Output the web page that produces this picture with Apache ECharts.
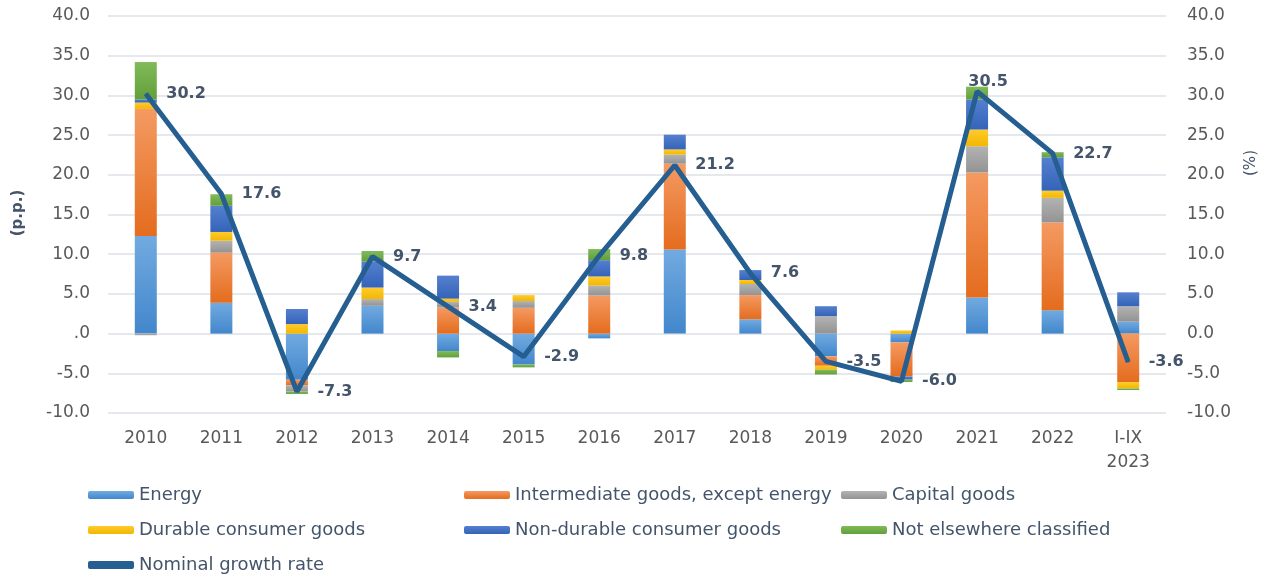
<!DOCTYPE html>
<html>
<head>
<meta charset="utf-8">
<script src="https://cdn.jsdelivr.net/npm/echarts@6/dist/echarts.min.js"></script>
<style>html,body{margin:0;padding:0;background:#fff}#c{width:1273px;height:579px}</style>
</head>
<body>
<div id="c"></div>
<script>
const categories = ['2010','2011','2012','2013','2014','2015','2016','2017','2018','2019','2020','2021','2022','I-IX\n2023'];
const energy       = [12.3, 3.9, -5.8, 3.5, -2.2, -3.9, -0.6, 10.6, 1.8, -2.85, -1.1, 4.55, 2.95, 1.5];
const intermediate = [16.0, 6.3, -0.7, 0.0, 3.3, 3.25, 4.8, 10.8, 3.05, -1.2, -4.3, 15.75, 11.05, -6.1];
const capital      = [-0.2, 1.5, -0.8, 0.85, 0.7, 0.85, 1.25, 1.15, 1.4, 2.2, 0.0, 3.3, 3.1, 1.95];
const durable      = [0.8, 1.1, 1.2, 1.45, 0.4, 0.75, 1.15, 0.65, 0.5, -0.5, 0.4, 2.1, 0.9, -0.8];
const nondurable   = [0.4, 3.3, 1.9, 3.3, 2.9, 0.0, 2.05, 1.85, 1.25, 1.25, -0.4, 3.8, 4.2, 1.75];
const nec          = [4.7, 1.45, -0.3, 1.3, -0.8, -0.35, 1.4, 0.0, 0.0, -0.6, -0.3, 1.6, 0.65, -0.2];
const growth       = [30.2, 17.6, -7.3, 9.7, 3.4, -2.9, 9.8, 21.2, 7.6, -3.5, -6.0, 30.5, 22.7, -3.6];

const FONT = 'DejaVu Sans';
function grad(top, bottom) {
  return new echarts.graphic.LinearGradient(0, 0, 0, 1, [{offset: 0, color: top}, {offset: 1, color: bottom}]);
}
const barDefs = [
  {name: 'Energy', data: energy, c: ['#72AAE0', '#4287CC']},
  {name: 'Intermediate goods, except energy', data: intermediate, c: ['#F49A62', '#E46C1E']},
  {name: 'Capital goods', data: capital, c: ['#B3B3B3', '#939393']},
  {name: 'Durable consumer goods', data: durable, c: ['#FFCB2E', '#F2B700']},
  {name: 'Non-durable consumer goods', data: nondurable, c: ['#5580CF', '#3463B8']},
  {name: 'Not elsewhere classified', data: nec, c: ['#80BA5A', '#62A03A']}
];
const series = barDefs.map(d => ({
  name: d.name, type: 'bar', stack: 'total', barWidth: 22,
  data: d.data,
  itemStyle: {color: grad(d.c[0], d.c[1])}
}));
series.push({
  name: 'Nominal growth rate', type: 'line', yAxisIndex: 1, z: 5,
  symbol: 'circle', symbolSize: 1, showSymbol: true, showAllSymbol: true,
  lineStyle: {width: 5, color: '#255E91'}, itemStyle: {color: '#255E91'},
  data: growth.map((v, i) => i === 11
    ? {value: v, label: {position: 'top', distance: 1, offset: [11, 0]}}
    : v),
  label: {show: true, position: 'right', distance: 20, color: '#44546A', fontFamily: FONT,
    fontWeight: 'bold', fontSize: 16, formatter: p => Number(p.value).toFixed(1)}
});

const legendText = {color: '#44546A', fontFamily: FONT, fontSize: 18, lineHeight: 20};
function leg(left, names) {
  return {left: left, top: 485, orient: 'vertical', padding: 0, height: 100, itemWidth: 46, itemHeight: 8, itemGap: 15,
    itemTextGap: 6, textStyle: legendText, data: names, selectedMode: false};
}
const axisLabelStyle = {color: '#595959', fontFamily: FONT, fontSize: 17};

const chart = echarts.init(document.getElementById('c'));
chart.setOption({
  animation: false,
  grid: {left: 108, right: 107, top: 16, bottom: 166, containLabel: false},
  legend: [
    leg(88, ['Energy', 'Durable consumer goods', {name: 'Nominal growth rate', icon: 'roundRect'}]),
    leg(464, ['Intermediate goods, except energy', 'Non-durable consumer goods']),
    leg(841, ['Capital goods', 'Not elsewhere classified'])
  ],
  xAxis: {type: 'category', data: categories,
    axisLine: {show: false}, axisTick: {show: false},
    axisLabel: Object.assign({margin: 14, lineHeight: 24, interval: 0}, axisLabelStyle)},
  yAxis: [
    {type: 'value', min: -10, max: 40, interval: 5,
      axisLine: {show: false}, axisTick: {show: false},
      splitLine: {lineStyle: {color: '#DDE1E6', width: 1.5}},
      axisLabel: Object.assign({margin: 18, formatter: v => v === 0 ? '.0' : v.toFixed(1)}, axisLabelStyle)},
    {type: 'value', min: -10, max: 40, interval: 5, position: 'right',
      axisLine: {show: false}, axisTick: {show: false}, splitLine: {show: false},
      axisLabel: Object.assign({margin: 21, formatter: v => v.toFixed(1)}, axisLabelStyle)}
  ],
  graphic: [
    {type: 'text', x: 18, y: 213, rotation: Math.PI / 2,
      style: {text: '(p.p.)', fill: '#44546A', font: 'bold 15px "DejaVu Sans"', align: 'center', verticalAlign: 'middle'}},
    {type: 'text', x: 1251, y: 163, rotation: Math.PI / 2,
      style: {text: '(%)', fill: '#44546A', font: '15px "DejaVu Sans"', align: 'center', verticalAlign: 'middle'}}
  ],
  series: series
});
</script>
</body>
</html>
